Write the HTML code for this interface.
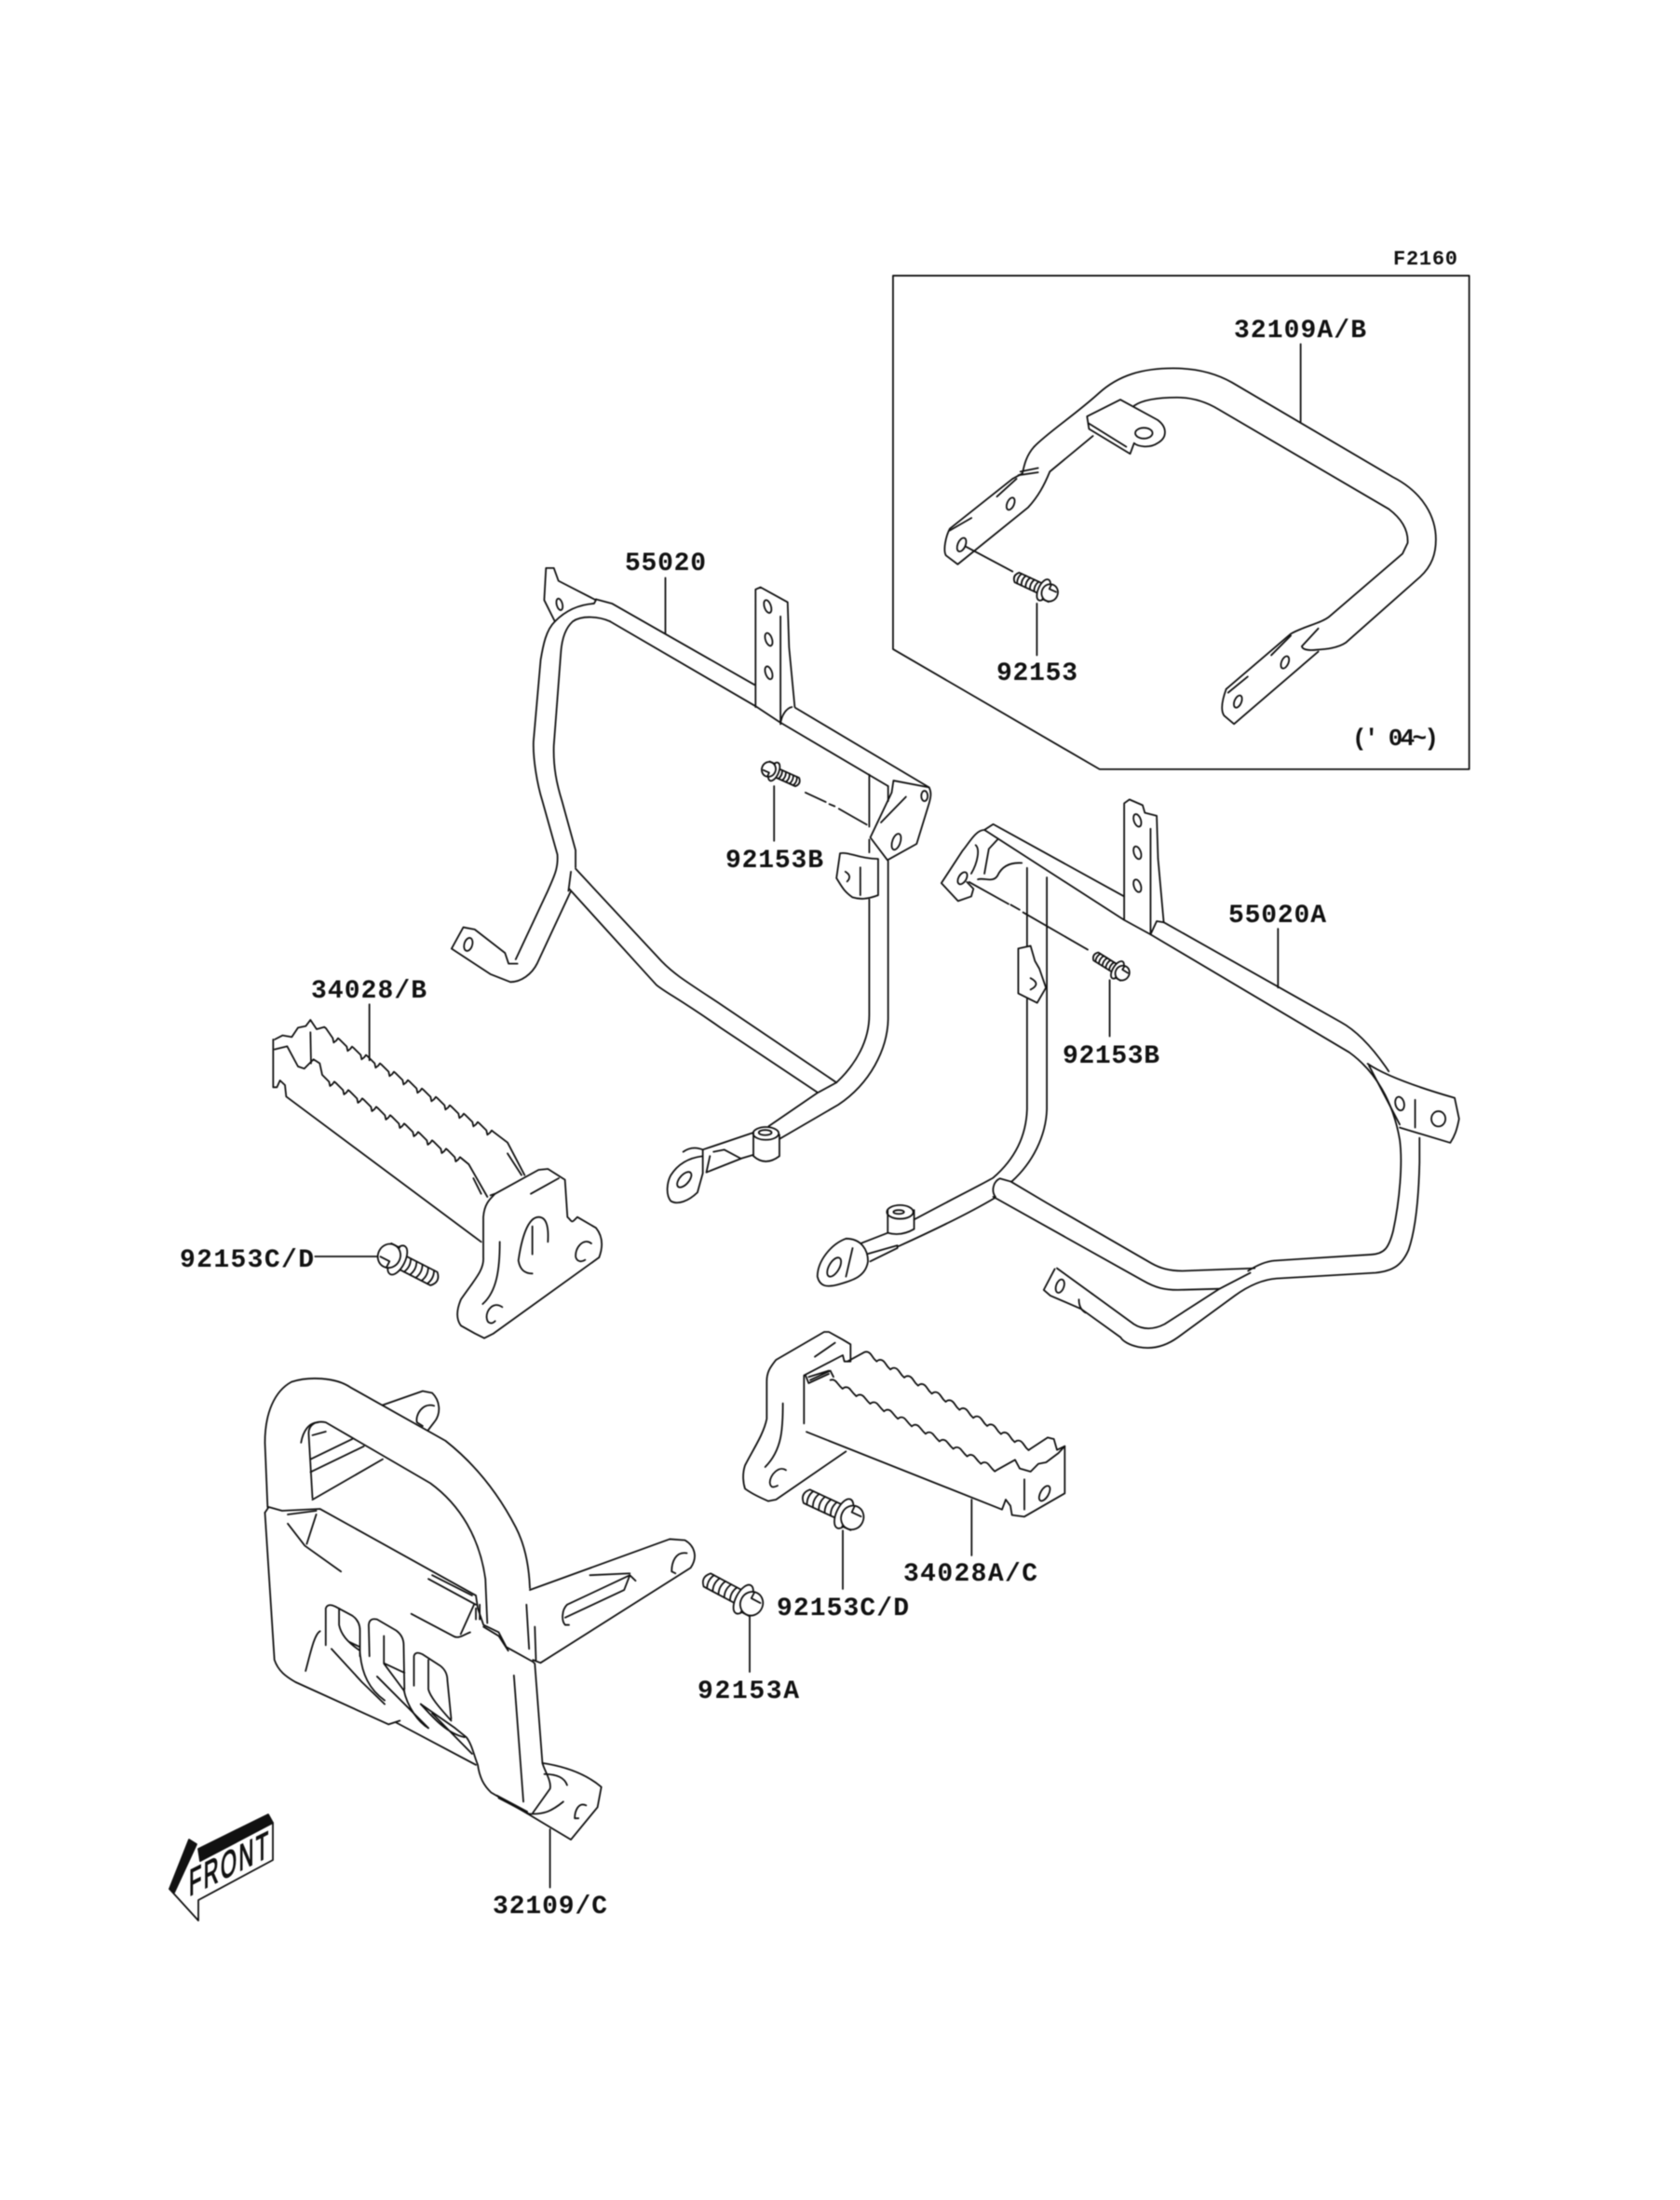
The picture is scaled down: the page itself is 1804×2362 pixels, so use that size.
<!DOCTYPE html>
<html><head><meta charset="utf-8">
<style>
html,body{margin:0;padding:0;background:#fff}
svg{display:block;filter:blur(.45px)}
path,ellipse,polygon,line{vector-effect:non-scaling-stroke}
.l{fill:none;stroke:#111;stroke-width:1.8;stroke-linejoin:round;stroke-linecap:round}
.l path,.l ellipse{vector-effect:non-scaling-stroke}
text{font-family:"Liberation Mono",monospace;font-weight:700;font-size:28px;fill:#111;stroke:none}
</style></head><body>
<svg width="1804" height="2362" viewBox="0 0 1804 2362" xmlns="http://www.w3.org/2000/svg">
<defs>
<g id="bolt">
<path d="M6,-8 L46,-8 Q54,0 46,8 L6,8"/>
<path d="M14,-8 Q18,0 14,8M21,-8 Q25,0 21,8M28,-8 Q32,0 28,8M35,-8 Q39,0 35,8M42,-8 Q46,0 42,8"/>
<ellipse cx="2" cy="0" rx="8" ry="17" fill="#fff"/>
<ellipse cx="-8" cy="0" rx="12" ry="13" fill="#fff"/>
<path d="M-12,-13 L-2,-13 M-16,5 L-5,5 M-5,5 L-5,12"/>
</g>
</defs>
<g class="l">

<!-- Inset -->
<g transform="translate(940,250) scale(.42088,.38265)">
<path d="M45,120 L1515,120 L1515,1505 L572,1505 L45,1168 Z"/>
<path d="M405,600 C440,560 510,510 570,450 C620,400 680,380 760,380 C820,380 870,395 910,420 L1320,685 C1400,730 1430,800 1430,860 C1430,900 1420,935 1390,965 L1200,1150 C1180,1165 1150,1168 1125,1170 C1105,1172 1090,1170 1088,1160 L1130,1110"/>
<path d="M660,485 C680,470 720,462 770,462 C810,462 845,475 875,495 L1310,775 C1340,800 1360,830 1358,870 L1345,900 L1160,1075 C1140,1095 1090,1105 1060,1125 L895,1280"/>
<path d="M895,1280 C885,1310 880,1340 890,1355 L915,1378 L1130,1175"/>
<path d="M1010,1185 L1060,1130 M900,1290 L950,1245"/>
<ellipse cx="925" cy="1315" rx="9" ry="18" transform="rotate(20 925 1315)"/>
<ellipse cx="1045" cy="1205" rx="9" ry="18" transform="rotate(20 1045 1205)"/>
<path d="M405,600 C385,625 380,650 375,675 L350,690 L190,830 C180,850 172,890 180,905 L210,930 L390,770 C415,740 430,710 445,670 L555,570"/>
<path d="M370,670 L415,660 M365,680 L415,672 M310,740 L360,690 M190,835 L245,800"/>
<ellipse cx="345" cy="760" rx="9" ry="18" transform="rotate(20 345 760)"/>
<ellipse cx="220" cy="875" rx="10" ry="20" transform="rotate(20 220 875)"/>
<path d="M540,515 L625,468 L720,525 C745,545 745,575 720,590 C700,605 670,600 660,590 L650,620 L545,550 Z M545,535 L640,600"/>
<ellipse cx="685" cy="562" rx="22" ry="15"/>
<path d="M230,880 L350,950"/>
<path d="M1085,312 L1085,530 M412,1040 L412,1185"/>
</g>
<use href="#bolt" transform="translate(1122,634) rotate(205) scale(.72)"/>

<!-- 55020 -->
<g transform="translate(460,580) scale(.3827,.45918)">
<path d="M470,138 L515,148 L915,338 M1030,392 L1405,578"/>
<path d="M510,190 L918,388 L985,425 L1290,575"/>
<path d="M510,190 C480,178 430,175 405,190 C385,205 375,230 372,260 L352,480 C350,530 360,570 375,610 L413,725 L413,765"/>
<path d="M355,190 C330,210 322,245 315,280 L295,470 C293,510 305,570 320,610 L362,735 C365,770 350,790 335,820 L245,980"/>
<path d="M400,820 L305,990 C290,1015 260,1033 230,1033 L175,1015 L65,955 L98,905 L130,910 L215,965 L225,990 L250,990"/>
<ellipse cx="112" cy="945" rx="11" ry="16" transform="rotate(25 112 945)"/>
<path d="M413,768 L655,985 C690,1015 720,1030 820,1085 L1145,1268"/>
<path d="M395,815 L580,985 L640,1040 C670,1060 700,1070 820,1140 L1090,1290 M400,775 L393,820"/>
<path d="M330,65 L352,65 L365,95 L470,140 L465,148 C430,150 390,160 355,190 L325,140 Z"/>
<ellipse cx="368" cy="150" rx="8" ry="14" transform="rotate(-20 368 150)"/>
<path d="M918,390 L918,115 L932,110 L1008,145 L1012,250 L1028,390 M988,430 L988,178 M988,430 C990,410 1005,392 1020,390"/>
<ellipse cx="952" cy="155" rx="9" ry="16" transform="rotate(-25 952 155)"/>
<ellipse cx="955" cy="232" rx="9" ry="16" transform="rotate(-25 955 232)"/>
<ellipse cx="955" cy="310" rx="9" ry="16" transform="rotate(-25 955 310)"/>
<path d="M1237,548 L1237,670 M1237,700 L1237,730 M1237,840 L1237,1110 C1237,1170 1200,1225 1145,1268 L1090,1293 L955,1370"/>
<path d="M1290,750 L1290,1120 C1288,1190 1240,1270 1150,1320 L985,1400 M1290,575 L1290,610"/>
<path d="M1405,578 C1412,590 1410,600 1405,615 L1370,710 L1288,748 L1240,695 L1300,590 L1305,562 L1405,578"/>
<path d="M1270,660 L1340,600"/>
<ellipse cx="1313" cy="705" rx="11" ry="20" transform="rotate(25 1313 705)"/>
<ellipse cx="1392" cy="598" rx="9" ry="12"/>
<path d="M1155,732 C1180,728 1210,745 1262,745 L1262,830 C1230,840 1210,840 1190,835 C1165,820 1160,810 1145,790 Z M1212,765 L1212,830 M1170,775 Q1190,785 1175,798"/>
<path d="M1058,590 L1115,612 M1125,617 L1140,622 M1152,628 L1230,665"/>
<path d="M665,88 L665,218 M970,575 L970,703"/>
<ellipse cx="947" cy="1387" rx="36" ry="15"/>
<ellipse cx="945" cy="1385" rx="18" ry="6"/>
<path d="M912,1385 L912,1440 Q945,1465 985,1440 L985,1390"/>
<path d="M912,1385 L770,1425 M912,1437 L880,1445 L780,1478 L790,1440 M800,1430 L830,1425 L875,1445"/>
<path d="M770,1440 L770,1480 L755,1525 C730,1545 700,1555 680,1545 C665,1530 670,1500 680,1485 C695,1465 720,1445 770,1440 M715,1430 Q740,1415 770,1425 L770,1440"/>
<ellipse cx="718" cy="1495" rx="24" ry="12" transform="rotate(-40 718 1495)"/>
</g>
<use href="#bolt" transform="translate(830,828) rotate(24) scale(.62)"/>

<!-- 55020A -->
<g transform="translate(840,840) scale(.47192,.40816)">
<path d="M460,125 L480,110 L778,300 M460,125 L778,362 L838,400 L1290,710 C1350,760 1390,840 1405,940 C1412,1000 1405,1100 1390,1180 C1380,1225 1370,1240 1340,1242 L1120,1258 C1100,1260 1080,1270 1060,1285"/>
<path d="M868,368 L1270,630 C1310,655 1345,700 1380,760"/>
<path d="M1450,935 L1450,1000 C1448,1100 1440,1180 1425,1230 C1410,1270 1390,1285 1350,1290 L1125,1305 C1090,1308 1060,1325 1030,1350 L900,1460 C870,1485 840,1492 810,1485 C790,1480 775,1470 770,1460 L680,1385"/>
<path d="M1065,1290 L995,1332 L870,1425 C845,1440 820,1440 800,1425 L705,1345"/>
<path d="M520,1050 L600,1105 L840,1265 C860,1278 880,1285 910,1285 L1075,1278"/>
<path d="M480,1090 L820,1310 C850,1330 870,1335 900,1335 L995,1332"/>
<path d="M520,1050 L495,1042 C480,1050 475,1075 485,1090"/>
<path d="M557,225 L557,430 M557,570 L557,860 C555,930 530,990 480,1040 C450,1060 380,1100 300,1150"/>
<path d="M602,250 L602,860 C600,930 570,1000 522,1050"/>
<path d="M485,1092 C430,1130 360,1170 265,1220"/>
<ellipse cx="268" cy="1130" rx="30" ry="18"/>
<ellipse cx="265" cy="1130" rx="12" ry="5"/>
<path d="M240,1125 L240,1185 Q270,1195 300,1175 L300,1125"/>
<path d="M240,1185 L180,1212 M200,1260 L262,1225 L262,1218 L195,1240"/>
<path d="M145,1200 C110,1215 80,1260 80,1300 C85,1325 100,1330 130,1320 C160,1310 190,1300 195,1260 C195,1230 180,1200 145,1200 Z M160,1225 L145,1300"/>
<ellipse cx="118" cy="1275" rx="12" ry="27" transform="rotate(25 118 1275)"/>
<path d="M460,125 C440,125 425,160 410,180 L362,265 L400,312 L430,300 L435,280 L420,262"/>
<ellipse cx="410" cy="252" rx="9" ry="17" transform="rotate(25 410 252)"/>
<path d="M440,165 C450,175 445,210 430,240 M470,175 L460,240 M445,255 C460,250 480,265 490,245 C500,220 520,210 545,212 M490,150 L470,175"/>
<path d="M425,262 L515,320 M520,322 L540,335 M548,342 L695,440"/>
<path d="M537,437 L565,430 L575,470 L585,490 L600,540 L580,580 L537,555 Z M565,515 Q590,530 565,545"/>
<path d="M778,300 L778,55 L790,45 L820,60 L825,80 L852,88 L855,200 L868,368 M778,300 L778,362 M838,400 L838,122 M838,400 L852,365 L868,368"/>
<ellipse cx="808" cy="100" rx="8" ry="17" transform="rotate(-15 808 100)"/>
<ellipse cx="808" cy="185" rx="8" ry="17" transform="rotate(-15 808 185)"/>
<ellipse cx="808" cy="272" rx="8" ry="17" transform="rotate(-15 808 272)"/>
<path d="M1332,740 C1370,770 1440,800 1530,830 L1540,885 C1535,915 1530,930 1520,948 L1405,908 M1335,745 L1405,900 M1440,835 L1440,908"/>
<ellipse cx="1405" cy="845" rx="10" ry="18" transform="rotate(-10 1405 845)"/>
<ellipse cx="1493" cy="885" rx="16" ry="20"/>
<path d="M625,1278 L705,1345 M620,1280 L595,1335 L610,1350 L680,1385 M675,1360 Q675,1385 690,1395"/>
<ellipse cx="632" cy="1325" rx="9" ry="18" transform="rotate(15 632 1325)"/>
<path d="M1128,385 L1128,540 M745,520 L745,668"/>
</g>
<use href="#bolt" transform="translate(1201,1042) rotate(212) scale(.62)"/>

<!-- 34028/B -->
<g transform="translate(180,1030) scale(.33333)">
<path d="M345,258 L370,245 L400,250 L420,220 L445,215 L460,195 L480,225 L505,218 L510,222 l22,32 l3,14 l8,-6 l6,-8 l6,5 l22,22 l3,14 l8,-6 l6,-8 l6,5 l22,22 l3,14 l8,-6 l6,-8 l6,5 l22,22 l3,14 l8,-6 l6,-8 l6,5 l22,22 l3,14 l8,-6 l6,-8 l6,5 l22,22 l3,14 l8,-6 l6,-8 l6,5 l22,22 l3,14 l8,-6 l6,-8 l6,5 l22,22 l3,14 l8,-6 l6,-8 l6,5 l22,22 l3,14 l8,-6 l6,-8 l6,5 l22,22 l3,14 l8,-6 l6,-8 l6,5 l22,22 l3,14 l8,-6 l6,-8 l6,5 l22,22 l3,14 l8,-6 l6,-8 l6,5 L1095,590 L1150,695"/>
<path d="M345,290 L385,280 L420,345 L440,352 L470,322 L490,335 L498,372 l22,22 l3,14 l8,-6 l6,-8 l6,5 l22,22 l3,14 l8,-6 l6,-8 l6,5 l22,22 l3,14 l8,-6 l6,-8 l6,5 l22,22 l3,14 l8,-6 l6,-8 l6,5 l22,22 l3,14 l8,-6 l6,-8 l6,5 l22,22 l3,14 l8,-6 l6,-8 l6,5 l22,22 l3,14 l8,-6 l6,-8 l6,5 l22,22 l3,14 l8,-6 l6,-8 l6,5 l22,22 l3,14 l8,-6 l6,-8 l6,5 l22,22 l3,14 l8,-6 l6,-8 l6,5 L970,660 L1030,765"/>
<path d="M985,705 L1010,755 M1095,625 L1140,695"/>
<path d="M340,258 L340,412 L352,412 L362,390 L378,405 L382,442 L1010,910 M460,235 L462,335"/>
<path d="M1040,760 L1055,755 L1195,678 L1225,675 L1280,710 L1288,830 C1300,840 1300,850 1310,840 L1320,830 L1380,865 C1400,890 1405,920 1390,960 L1050,1205 L1020,1220 L990,1205 L945,1180 C930,1160 930,1130 945,1095 C990,1030 1020,1000 1017,960 L1017,830 C1020,790 1035,775 1055,755"/>
<path d="M1170,755 L1260,705 M1070,910 C1070,1000 1060,1070 1015,1110"/>
<path d="M1130,970 C1140,900 1160,830 1195,830 C1220,830 1228,860 1225,910 M1130,970 C1135,1000 1150,1012 1175,1012 M1175,860 L1175,950"/>
<path d="M1365,915 C1340,895 1310,930 1315,960 C1320,975 1335,975 1345,968 M1078,1120 C1050,1100 1025,1130 1028,1155 C1030,1175 1045,1175 1055,1165"/>
<path d="M650,145 L650,325 M475,957 L700,957"/>
</g>
<use href="#bolt" transform="translate(425,1352) rotate(27)"/>

<!-- 34028A/C -->
<g transform="translate(770,1410) scale(.33333)">
<path d="M430,155 L430,100 L405,85 L360,60 L345,60 L190,150 C170,175 160,190 160,220 L160,340 C150,390 115,440 90,490 C80,520 85,550 90,565 C110,580 130,590 165,605 L190,600 L415,445"/>
<path d="M315,140 L380,95 M430,155 L410,155 L405,135 L280,200 L280,355 M212,290 C212,370 210,440 155,495"/>
<path d="M222,505 C200,490 170,520 170,545 C172,565 185,560 195,555"/>
<path d="M300,215 L365,185 L375,205 M295,205 L360,185 M285,200 L295,225 L360,195"/>
<path d="M420,155 L475,125 c8,-3 15,0 21,8 l10,14 l8,8 l5.5,-4 c8,-3 15,0 21,8 l10,14 l8,8 l5.5,-4 c8,-3 15,0 21,8 l10,14 l8,8 l5.5,-4 c8,-3 15,0 21,8 l10,14 l8,8 l5.5,-4 c8,-3 15,0 21,8 l10,14 l8,8 l5.5,-4 c8,-3 15,0 21,8 l10,14 l8,8 l5.5,-4 c8,-3 15,0 21,8 l10,14 l8,8 l5.5,-4 c8,-3 15,0 21,8 l10,14 l8,8 l5.5,-4 c8,-3 15,0 21,8 l10,14 l8,8 l5.5,-4 c8,-3 15,0 21,8 l10,14 l8,8 l5.5,-4 c8,-3 15,0 21,8 l10,14 l8,8 l5.5,-4 c8,-3 15,0 21,8 l10,14 l8,8 l5.5,-4 L1065,400 L1085,405 L1095,440 L1120,428"/>
<path d="M365,215 c8,-3 15,0 21,8 l10,12 l8,8 l5.6,-3.8 c8,-3 15,0 21,8 l10,12 l8,8 l5.6,-3.8 c8,-3 15,0 21,8 l10,12 l8,8 l5.6,-3.8 c8,-3 15,0 21,8 l10,12 l8,8 l5.6,-3.8 c8,-3 15,0 21,8 l10,12 l8,8 l5.6,-3.8 c8,-3 15,0 21,8 l10,12 l8,8 l5.6,-3.8 c8,-3 15,0 21,8 l10,12 l8,8 l5.6,-3.8 c8,-3 15,0 21,8 l10,12 l8,8 l5.6,-3.8 c8,-3 15,0 21,8 l10,12 l8,8 l5.6,-3.8 c8,-3 15,0 21,8 l10,12 l8,8 l5.6,-3.8 c8,-3 15,0 21,8 l10,12 l8,8 l5.6,-3.8 c8,-3 15,0 21,8 l10,12 l8,8 l5.6,-3.8 L960,472 L975,500 L1010,510 L1035,485 L1060,480 L1100,450 L1120,428 L1120,580 L990,655 L950,650 L945,620 L930,600 L918,632 L288,382"/>
<path d="M990,535 L990,632"/>
<ellipse cx="1055" cy="580" rx="13" ry="27" transform="rotate(30 1055 580)"/>
<path d="M820,600 L820,780 M405,700 L405,888 M105,965 L105,1155"/>
</g>
<use href="#bolt" transform="translate(908,1626) rotate(205)"/>
<use href="#bolt" transform="translate(800,1718) rotate(208)"/>

<!-- 32109/C -->
<g transform="translate(160,1450) scale(.40816,.39541)">
<path d="M312,425 L305,250 C305,170 330,110 375,85 C420,70 490,72 530,100 L780,245 C860,310 920,390 965,480 C990,530 1000,590 1002,645"/>
<path d="M430,400 L420,225 C420,200 440,190 465,195 L740,360 C820,420 870,510 885,620 L890,740"/>
<path d="M425,295 L535,240 M425,330 L565,260 M430,405 L615,295 M400,250 C405,220 420,195 445,195 M430,230 L465,220"/>
<path d="M615,148 L720,110 L745,115 C765,135 770,170 750,195 L735,215 M750,150 C720,140 700,175 705,195 L720,205"/>
<path d="M305,440 L315,425 L350,435 L450,430 L860,665 L865,700 L880,745 L920,765 L940,805 L1010,845 L1015,850 L1035,1120 C1100,1130 1150,1150 1190,1185 L1180,1240 L1110,1328 L1000,1260 L900,1200 C880,1180 870,1160 865,1125 C855,1100 850,1070 835,1050 L805,1025 L715,960"/>
<path d="M305,440 L330,840 C340,870 360,885 385,900 L630,1015 L660,1005 M650,1010 L860,1125"/>
<path d="M365,445 L440,435 M365,470 L410,530 L505,600 M415,525 L440,445 M745,610 L850,665 M735,620 L860,690 M690,715 L800,775 C815,785 830,770 845,765 M820,770 L855,690 M860,700 L860,730 M870,690 L870,730 M880,750 L920,775 L945,815"/>
<path d="M465,800 L465,700 Q470,685 490,695 L535,720 Q555,735 555,760 L555,830 M500,700 L500,745 C505,770 520,790 555,815 M480,810 L560,900 L620,960 M525,790 L555,805"/>
<path d="M580,830 L578,745 Q580,725 600,730 L650,760 Q670,775 670,800 L672,920 M618,775 L618,850 L672,925 M555,820 C560,880 580,920 620,950 M600,885 L735,1025 M620,850 L672,875"/>
<path d="M697,910 L697,830 Q700,815 720,825 L765,855 Q785,870 785,895 L795,1000 M735,840 L735,920 C740,940 760,965 795,1005 M670,920 C680,970 710,1010 735,1025 M715,960 C750,1000 785,1040 830,1050 M745,985 L850,1095"/>
<path d="M450,762 C435,770 425,820 412,870 M960,882 L985,1225 M1035,1120 C1040,1140 1060,1170 1055,1190 L1010,1255"/>
<path d="M1040,1150 C1080,1150 1095,1165 1100,1180 M1090,1225 C1060,1250 1040,1260 1000,1258 M920,1215 L1000,1258 M915,1208 L995,1252"/>
<path d="M1150,1235 C1130,1225 1120,1250 1120,1270 L1130,1270"/>
<path d="M1002,650 L1370,512 L1410,515 C1435,530 1445,560 1425,590 L1030,848 L1010,840"/>
<path d="M1415,550 C1385,545 1375,575 1375,600 L1385,605"/>
<path d="M1100,690 L1265,610 L1280,625 M1100,690 C1085,705 1085,735 1095,745 L1105,745 M1095,725 L1250,650 L1265,610 M1160,610 L1265,605 M993,690 L1000,810 M1015,750 L1018,840"/>
<path d="M1055,1300 L1055,1458"/>
</g>
<!-- arrow -->
<polygon points="213,1985 288,1948 293,1957 215,1998" fill="#111"/>
<polygon points="203,1975 211,1980 187,2032 182,2028" fill="#111"/>
<path d="M215,1998 L293,1957 L293,1997 L213,2040 L213,2062 L182,2028"/>
</g>

<g transform="matrix(1,-.5,0,1,203,2036)">
<text x="0" y="0" transform="scale(.55,1)" style="font-size:40px;font-weight:400;font-family:'Liberation Sans',sans-serif;stroke:#111;stroke-width:1.3" textLength="155">FRONT</text>
</g>

<text x="1496" y="284" style="font-size:22px" textLength="69">F2160</text>
<text x="1325" y="362" textLength="142">32109A/B</text>
<text x="1070" y="730" textLength="87">92153</text>
<text x="1452" y="800" textLength="93" style="font-size:26px" xml:space="preserve">(' 04~)</text>
<text x="671" y="612" textLength="87">55020</text>
<text x="779" y="931" textLength="105">92153B</text>
<text x="1319" y="990" textLength="105">55020A</text>
<text x="1141" y="1141" textLength="104">92153B</text>
<text x="334" y="1071" textLength="124">34028/B</text>
<text x="193" y="1360" textLength="144">92153C/D</text>
<text x="970" y="1697" textLength="144">34028A/C</text>
<text x="834" y="1734" textLength="142">92153C/D</text>
<text x="749" y="1823" textLength="109">92153A</text>
<text x="529" y="2054" textLength="123">32109/C</text>
</svg>
</body></html>
